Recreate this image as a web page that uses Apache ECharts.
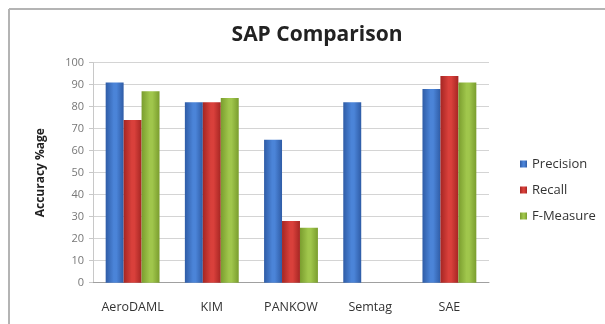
<!DOCTYPE html>
<html>
<head>
<meta charset="utf-8">
<script src="https://cdn.jsdelivr.net/npm/echarts@6/dist/echarts.min.js"></script>
<style>
  html, body { margin: 0; padding: 0; background: #fff; }
  #chart { width: 605px; height: 324px; }
</style>
</head>
<body>
<div id="chart"></div>
<script>
// SAP comparison: precision / recall / F-measure per system
var categories = ['AeroDAML', 'KIM', 'PANKOW', 'Semtag', 'SAE'];
var precision = [91, 82, 65, 82, 88];
var recall    = [74, 82, 28, null, 94];
var fMeasure  = [87, 84, 25, null, 91];
var seriesNames = ['Precision', 'Recall', 'F-Measure'];
var yTicks = { min: 0, max: 100, interval: 10 };

var FONT = '"Open Sans", Lato, sans-serif';

// Horizontal shading so each bar looks slightly rounded
function barShade(edge, mid) {
  return new echarts.graphic.LinearGradient(0, 0, 1, 0, [
    { offset: 0, color: edge },
    { offset: 0.45, color: mid },
    { offset: 0.6, color: mid },
    { offset: 1, color: edge }
  ]);
}

var palette = [
  { edge: '#2f5ca6', mid: '#4b84d8', legend: '#3f6fbf' },
  { edge: '#a52623', mid: '#d9403b', legend: '#c53330' },
  { edge: '#7a9d2e', mid: '#a0c64c', legend: '#8cb23c' }
];

function makeSeries(name, values, idx) {
  return {
    name: name,
    type: 'bar',
    data: values,
    barGap: '0%',
    barCategoryGap: '32%',
    itemStyle: { color: barShade(palette[idx].edge, palette[idx].mid) }
  };
}

var chart = echarts.init(document.getElementById('chart'), null, { renderer: 'canvas' });

// Chart-area frame: only its top and left edges fall inside the page
var frameStyle = { stroke: '#b4b4b4', lineWidth: 2 };

chart.setOption({
  animation: false,
  color: palette.map(function (p) { return p.legend; }),
  title: {
    text: 'SAP Comparison',
    left: 312,
    textAlign: 'center',
    top: 20,
    textStyle: { fontFamily: FONT, fontSize: 21, fontWeight: 'bold', color: '#222' }
  },
  graphic: [
    { type: 'line', silent: true, shape: { x1: 9, y1: 9, x2: 605, y2: 9 }, style: frameStyle },
    { type: 'line', silent: true, shape: { x1: 9, y1: 9, x2: 9, y2: 324 }, style: frameStyle }
  ],
  legend: {
    orient: 'vertical',
    left: 515,
    top: 152,
    itemWidth: 7,
    itemHeight: 7,
    itemGap: 12,
    icon: 'rect',
    textStyle: { fontFamily: FONT, fontSize: 13, color: '#333', lineHeight: 14 },
    data: seriesNames
  },
  grid: { left: 93, right: 116, top: 62.7, bottom: 41.3, containLabel: false },
  xAxis: {
    type: 'category',
    data: categories,
    axisLine: { lineStyle: { color: '#a0a0a0' } },
    axisTick: { show: false },
    axisLabel: { interval: 0, fontFamily: FONT, fontSize: 12.5, color: '#333', margin: 18 }
  },
  yAxis: {
    type: 'value',
    min: yTicks.min,
    max: yTicks.max,
    interval: yTicks.interval,
    name: 'Accuracy %age',
    nameLocation: 'middle',
    nameGap: 46,
    nameTextStyle: { fontFamily: FONT, fontSize: 12, fontWeight: 'bold', color: '#222' },
    axisLine: { show: true, lineStyle: { color: '#c8c8c8' } },
    axisTick: { show: true, inside: false, length: 4, lineStyle: { color: '#c8c8c8' } },
    axisLabel: { fontFamily: FONT, fontSize: 11, color: '#777', margin: 9 },
    splitLine: { lineStyle: { color: '#d4d4d4' } }
  },
  series: [
    makeSeries(seriesNames[0], precision, 0),
    makeSeries(seriesNames[1], recall, 1),
    makeSeries(seriesNames[2], fMeasure, 2)
  ]
});
</script>
</body>
</html>
